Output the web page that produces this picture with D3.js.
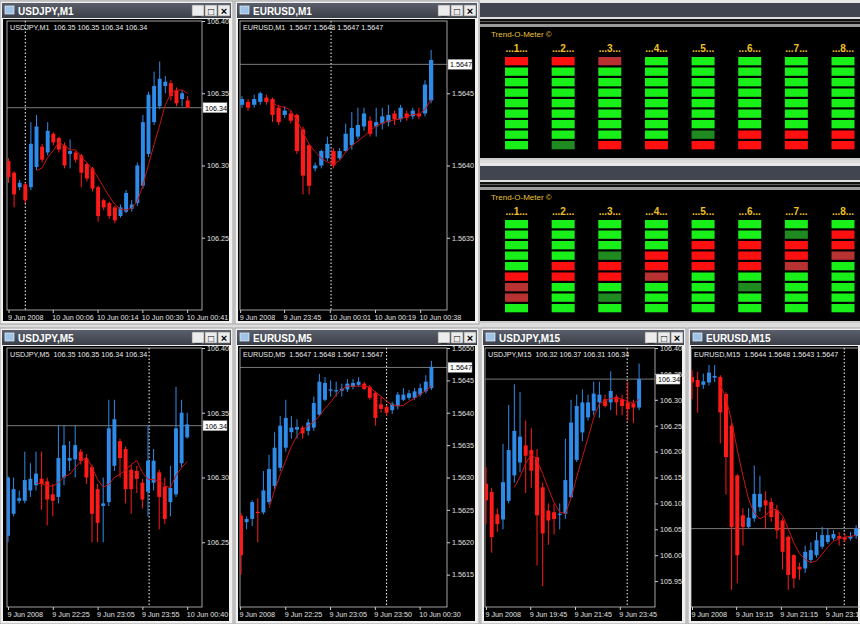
<!DOCTYPE html>
<html><head><meta charset="utf-8">
<script src="https://cdn.jsdelivr.net/npm/d3@7/dist/d3.min.js"></script>
<style>body{margin:0;background:#d8d8d8;}svg{display:block;font-family:"Liberation Sans",Arial,sans-serif;}</style>
</head><body><svg id="c" width="860" height="624"></svg>
<script>
// ---- data: candles as [open, high, low, close] ----
const usdjpyM1 = [[106.303,106.305,106.288,106.292],[106.295,106.296,106.271,106.280],[106.285,106.290,106.283,106.288],[106.287,106.288,106.274,106.276],[106.285,106.330,106.283,106.315],[106.299,106.335,106.297,106.327],[106.313,106.315,106.302,106.304],[106.309,106.330,106.307,106.324],[106.322,106.323,106.314,106.316],[106.319,106.320,106.309,106.311],[106.314,106.316,106.298,106.300],[106.308,106.318,106.298,106.310],[106.309,106.310,106.302,106.304],[106.307,106.308,106.285,106.295],[106.301,106.302,106.289,106.291],[106.298,106.299,106.282,106.284],[106.285,106.286,106.261,106.265],[106.276,106.277,106.269,106.271],[106.274,106.275,106.263,106.265],[106.271,106.272,106.260,106.262],[106.265,106.273,106.264,106.271],[106.268,106.283,106.267,106.281],[106.270,106.276,106.268,106.273],[106.274,106.302,106.272,106.300],[106.286,106.335,106.284,106.330],[106.308,106.351,106.306,106.349],[106.330,106.365,106.328,106.355],[106.341,106.372,106.339,106.360],[106.355,106.362,106.350,106.358],[106.357,106.359,106.345,106.348],[106.352,106.354,106.341,106.343],[106.346,106.352,106.341,106.350],[106.345,106.348,106.340,106.340]];
const eurusdM1 = [[1.56442,1.56448,1.56440,1.56446],[1.56444,1.56446,1.56438,1.56440],[1.56442,1.56449,1.56440,1.56446],[1.56444,1.56451,1.56442,1.56450],[1.56447,1.56449,1.56442,1.56444],[1.56446,1.56447,1.56430,1.56435],[1.56440,1.56442,1.56428,1.56430],[1.56435,1.56441,1.56433,1.56438],[1.56436,1.56438,1.56429,1.56431],[1.56435,1.56436,1.56408,1.56410],[1.56425,1.56427,1.56380,1.56393],[1.56414,1.56415,1.56380,1.56386],[1.56398,1.56402,1.56396,1.56400],[1.56400,1.56411,1.56398,1.56410],[1.56405,1.56420,1.56403,1.56415],[1.56410,1.56412,1.56398,1.56400],[1.56405,1.56412,1.56404,1.56410],[1.56410,1.56429,1.56409,1.56422],[1.56414,1.56437,1.56411,1.56426],[1.56420,1.56440,1.56418,1.56428],[1.56427,1.56440,1.56424,1.56436],[1.56431,1.56434,1.56420,1.56422],[1.56427,1.56440,1.56420,1.56430],[1.56429,1.56440,1.56425,1.56434],[1.56430,1.56442,1.56427,1.56435],[1.56436,1.56438,1.56428,1.56432],[1.56432,1.56442,1.56430,1.56440],[1.56436,1.56438,1.56431,1.56433],[1.56434,1.56440,1.56432,1.56438],[1.56436,1.56440,1.56432,1.56434],[1.56436,1.56459,1.56434,1.56456],[1.56445,1.56480,1.56443,1.56473]];
const usdjpyM5 = [[106.255,106.301,106.250,106.300],[106.272,106.300,106.270,106.291],[106.282,106.290,106.280,106.284],[106.282,106.320,106.280,106.298],[106.290,106.311,106.285,106.299],[106.294,106.320,106.290,106.303],[106.299,106.320,106.275,106.295],[106.297,106.300,106.263,106.283],[106.287,106.295,106.270,106.282],[106.285,106.340,106.280,106.315],[106.300,106.340,106.294,106.325],[106.313,106.328,106.305,106.315],[106.314,106.340,106.300,106.325],[106.320,106.322,106.310,106.313],[106.315,106.318,106.295,106.300],[106.308,106.310,106.250,106.272],[106.291,106.295,106.250,106.265],[106.278,106.300,106.250,106.280],[106.281,106.360,106.278,106.338],[106.309,106.360,106.305,106.345],[106.328,106.330,106.300,106.315],[106.322,106.324,106.280,106.291],[106.306,106.310,106.272,106.291],[106.305,106.309,106.288,106.299],[106.296,106.299,106.276,106.283],[106.289,106.340,106.270,106.313],[106.296,106.322,106.290,106.313],[106.304,106.306,106.260,106.285],[106.293,106.300,106.264,106.268],[106.281,106.309,106.270,106.292],[106.287,106.370,106.285,106.338],[106.311,106.360,106.308,106.350],[106.331,106.350,106.330,106.341]];
const eurusdM5 = [[1.56241,1.56245,1.56150,1.56180],[1.56231,1.56240,1.56220,1.56236],[1.56236,1.56265,1.56225,1.56262],[1.56247,1.56268,1.56200,1.56246],[1.56246,1.56310,1.56243,1.56280],[1.56262,1.56335,1.56258,1.56313],[1.56287,1.56370,1.56282,1.56346],[1.56315,1.56395,1.56310,1.56380],[1.56346,1.56420,1.56340,1.56392],[1.56370,1.56395,1.56360,1.56377],[1.56374,1.56390,1.56360,1.56378],[1.56377,1.56380,1.56360,1.56368],[1.56372,1.56390,1.56365,1.56385],[1.56377,1.56425,1.56372,1.56415],[1.56397,1.56460,1.56395,1.56448],[1.56420,1.56455,1.56418,1.56446],[1.56434,1.56450,1.56425,1.56436],[1.56433,1.56448,1.56425,1.56435],[1.56434,1.56445,1.56425,1.56437],[1.56436,1.56452,1.56432,1.56445],[1.56440,1.56452,1.56436,1.56446],[1.56443,1.56455,1.56440,1.56448],[1.56445,1.56448,1.56435,1.56437],[1.56440,1.56443,1.56420,1.56423],[1.56431,1.56433,1.56380,1.56392],[1.56413,1.56425,1.56400,1.56406],[1.56409,1.56412,1.56395,1.56400],[1.56404,1.56417,1.56398,1.56414],[1.56410,1.56432,1.56405,1.56428],[1.56420,1.56438,1.56418,1.56428],[1.56423,1.56435,1.56420,1.56430],[1.56423,1.56438,1.56420,1.56433],[1.56428,1.56445,1.56425,1.56438],[1.56433,1.56458,1.56430,1.56448],[1.56438,1.56480,1.56435,1.56471]];
const usdjpyM15 = [[106.138,106.170,106.060,106.106],[106.122,106.130,106.005,106.035],[106.079,106.090,106.045,106.060],[106.069,106.215,106.050,106.141],[106.105,106.290,106.100,106.203],[106.154,106.330,106.140,106.240],[106.179,106.315,106.160,106.229],[106.212,106.260,106.120,106.192],[106.203,106.245,106.130,106.163],[106.189,106.205,105.980,106.077],[106.131,106.140,105.940,106.042],[106.086,106.100,106.020,106.067],[106.083,106.100,106.040,106.070],[106.079,106.100,106.050,106.080],[106.080,106.225,106.070,106.145],[106.112,106.300,106.110,106.256],[106.184,106.310,106.180,106.288],[106.237,106.320,106.220,106.295],[106.266,106.310,106.260,106.295],[106.279,106.335,106.270,106.312],[106.295,106.335,106.265,106.310],[106.301,106.310,106.285,106.288],[106.295,106.355,106.280,106.317],[106.306,106.310,106.270,106.295],[106.301,106.310,106.270,106.288],[106.295,106.335,106.260,106.282],[106.293,106.300,106.255,106.285],[106.285,106.370,106.280,106.340]];
const eurusdM15 = [[1.56915,1.56935,1.56850,1.56899],[1.56906,1.56930,1.56810,1.56886],[1.56892,1.56925,1.56880,1.56902],[1.56899,1.56950,1.56890,1.56928],[1.56913,1.56950,1.56900,1.56918],[1.56915,1.56920,1.56720,1.56811],[1.56865,1.56870,1.56570,1.56680],[1.56772,1.56780,1.56290,1.56475],[1.56626,1.56630,1.56310,1.56392],[1.56509,1.56530,1.56420,1.56475],[1.56475,1.56530,1.56470,1.56502],[1.56500,1.56655,1.56490,1.56572],[1.56533,1.56625,1.56520,1.56572],[1.56553,1.56580,1.56470,1.56538],[1.56548,1.56560,1.56490,1.56504],[1.56524,1.56540,1.56440,1.56465],[1.56494,1.56500,1.56350,1.56402],[1.56446,1.56450,1.56290,1.56334],[1.56392,1.56395,1.56295,1.56324],[1.56358,1.56370,1.56320,1.56350],[1.56353,1.56420,1.56340,1.56402],[1.56378,1.56430,1.56370,1.56407],[1.56392,1.56460,1.56385,1.56436],[1.56417,1.56475,1.56410,1.56451],[1.56431,1.56470,1.56425,1.56451],[1.56441,1.56465,1.56435,1.56454],[1.56448,1.56460,1.56420,1.56441],[1.56444,1.56455,1.56430,1.56438],[1.56441,1.56460,1.56435,1.56448],[1.56448,1.56480,1.56440,1.56470]];

const chartTitles = ["USDJPY,M1","EURUSD,M1","USDJPY,M5","EURUSD,M5","USDJPY,M15","EURUSD,M15"];
const chartHeaders = ["106.35 106.35 106.34 106.34","1.5647 1.5648 1.5647 1.5647","106.35 106.35 106.34 106.34","1.5647 1.5648 1.5647 1.5647","106.32 106.37 106.31 106.34","1.5644 1.5648 1.5643 1.5647"];
const chartData = [usdjpyM1, eurusdM1, usdjpyM5, eurusdM5, usdjpyM15, eurusdM15];
const priceDomains = [[106.20,106.40],[1.5630,1.5650],[106.20,106.40],[1.5610,1.5650],[105.90,106.40],[1.5624,1.5700]];
const priceTicks = [[106.25,106.30,106.35,106.40],[1.5635,1.5640,1.5645],[106.25,106.30,106.35,106.40],[1.5615,1.5620,1.5625,1.5630,1.5635,1.5640,1.5645,1.5650],[105.95,106.00,106.05,106.10,106.15,106.20,106.25,106.30,106.35,106.40],[]];
const lastPrices = [106.34,1.5647,106.34,1.5647,106.34,1.5647];
const timeLabels = [["9 Jun 2008","10 Jun 00:06","10 Jun 00:14","10 Jun 00:30","10 Jun 00:41"],["9 Jun 2008","9 Jun 23:45","10 Jun 00:01","10 Jun 00:19","10 Jun 00:38"],["9 Jun 2008","9 Jun 22:25","9 Jun 23:05","9 Jun 23:55","10 Jun 00:40"],["9 Jun 2008","9 Jun 22:25","9 Jun 23:05","9 Jun 23:50","10 Jun 00:30"],["9 Jun 2008","9 Jun 19:45","9 Jun 21:45","9 Jun 23:45"],["9 Jun 2008","9 Jun 19:15","9 Jun 21:15","9 Jun 23:15"]];
const timeLabelIdx = [[0,7.9,15.9,23.9,31.9],[-0.3,6.9,14.4,21.8,29.2],[0,8,16,24,32],[-0.2,7.9,15.9,23.9,31.9],[0,7.8,15.7,23.6],[0,7.8,15.7,23.7]];
const separatorIdx = [3,14.6,25.2,26,24.9,26.9];

// Trend-O-Meter states: R red, G green, D dull red, K dark green (columns top->bottom)
const meterLabels = ["...1...","...2...","...3...","...4...","...5...","...6...","...7...","...8..."];
const meterA = ["RGGGGGGGG","RGGGGGGGK","DGGGGGGGR","GGGGGGGGR","GGGGGGGKR","GGGGGGGRR","GGGGGGGRR","GGGGGGGRR"];
const meterB = ["GGGGGRDDG","GGGGRRGGG","GGGKRRGKG","GGGRRDGGG","GGRRRGGGG","GGRRRGKGG","GKRRDGGGG","GRRDGGGGG"];

// ---- layout ----
const layout = [
 {win:[0,1,233,323], plot:[7,21,202,310], x0:8.5, step:5.6, dec:2},
 {win:[235,1,244,323], plot:[240,21,447,310], x0:242, step:6.1, dec:4},
 {win:[0,328,233,296], plot:[7,348,202,607], x0:8, step:5.6, dec:2},
 {win:[235,328,244,296], plot:[240,348,447,607], x0:241, step:5.6, dec:4},
 {win:[481,328,205,296], plot:[485,348,655,607], x0:486, step:5.67, dec:2},
 {win:[688,328,180,296], plot:[691,348,900,607], x0:692, step:5.66, dec:4, nobtn:true}
];
const FS = 7.2;
const svg = d3.select("#c");
svg.append("rect").attr("width",860).attr("height",624).attr("fill","#dcdcdc");
const defs = svg.append("defs");
const grad = defs.append("linearGradient").attr("id","tb").attr("x1",0).attr("y1",0).attr("x2",0).attr("y2",1);
grad.append("stop").attr("offset",0).attr("stop-color","#5a5f6b");
grad.append("stop").attr("offset",1).attr("stop-color","#3b3f48");

const BULL="#2f8be8", BEAR="#ff1a1a";

layout.forEach((L,ci)=>{
  const [wx,wy,ww,wh]=L.win, [px0,py0,px1,py1]=L.plot;
  const g=svg.append("g");
  g.append("rect").attr("x",wx).attr("y",wy).attr("width",ww).attr("height",wh).attr("fill","#f0f0f0").attr("stroke","#a0a0a0");
  g.append("rect").attr("x",wx+2).attr("y",wy+2).attr("width",ww-4).attr("height",15).attr("fill","url(#tb)");
  g.append("rect").attr("x",wx+5).attr("y",wy+5).attr("width",9).attr("height",8).attr("fill","#9fc3e8").attr("stroke","#e8f0fa").attr("stroke-width",0.7);
  g.append("text").attr("x",wx+18).attr("y",wy+14).attr("fill","#fff").attr("font-size",10).attr("font-weight","bold").text(chartTitles[ci]);
  if(!L.nobtn){
    ["_","□","×"].forEach((s,k)=>{
      const bx=wx+ww-41+k*13;
      g.append("rect").attr("x",bx).attr("y",wy+4).attr("width",12).attr("height",11).attr("fill","#ececec").attr("stroke","#777").attr("stroke-width",0.6);
      g.append("text").attr("x",bx+6).attr("y",wy+13.5).attr("text-anchor","middle").attr("font-size",k==1?10:11).attr("font-weight","bold").attr("fill","#000").text(s);
    });
  }
  const bx1=Math.min(wx+ww-2,860);
  g.append("rect").attr("x",wx+3).attr("y",wy+18).attr("width",bx1-wx-5).attr("height",wh-21).attr("fill","#000");
  const clipId="cl"+ci;
  defs.append("clipPath").attr("id",clipId).append("rect").attr("x",px0).attr("y",py0).attr("width",px1-px0).attr("height",py1-py0);
  const y=d3.scaleLinear().domain(priceDomains[ci]).range([py1,py0]);
  const data=chartData[ci];
  const x=d3.scaleLinear().domain([0,1]).range([L.x0,L.x0+L.step]);
  g.append("rect").attr("x",px0).attr("y",py0).attr("width",px1-px0).attr("height",py1-py0).attr("fill","none").attr("stroke","#c8c8c8").attr("stroke-width",0.8);
  const yAxis=d3.axisRight(y).tickValues(priceTicks[ci]).tickSize(3).tickPadding(2).tickFormat(d3.format("."+L.dec+"f"));
  const ya=g.append("g").attr("transform",`translate(${px1},0)`).call(yAxis);
  ya.select(".domain").remove();
  ya.selectAll("line").attr("stroke","#ccc");
  ya.selectAll("text").attr("fill","#e0e0e0").attr("font-size",FS).attr("font-family","Liberation Sans, Arial");
  const xa=g.append("g").attr("transform",`translate(0,${py1})`).call(d3.axisBottom(x).tickValues(timeLabelIdx[ci]).tickSize(3).tickPadding(2).tickFormat((d,i)=>timeLabels[ci][i]));
  xa.select(".domain").remove();
  xa.selectAll("line").attr("stroke","#ccc");
  xa.selectAll("text").attr("fill","#e0e0e0").attr("font-size",FS).attr("text-anchor","start").attr("dx",-1).attr("font-family","Liberation Sans, Arial");
  const p=g.append("g").attr("clip-path",`url(#${clipId})`);
  p.append("line").attr("x1",x(separatorIdx[ci])).attr("x2",x(separatorIdx[ci])).attr("y1",py0).attr("y2",py1).attr("stroke","#fff").attr("stroke-dasharray","1.5,2").attr("stroke-width",1);
  p.append("line").attr("x1",px0).attr("x2",px1).attr("y1",y(lastPrices[ci])).attr("y2",y(lastPrices[ci])).attr("stroke","#9a9a9a").attr("stroke-width",0.8);
  const bw=Math.max(3,L.step*0.7);
  const cg=p.selectAll("g.cd").data(data).join("g");
  cg.append("line").attr("x1",(d,i)=>x(i)).attr("x2",(d,i)=>x(i)).attr("y1",d=>y(d[1])).attr("y2",d=>y(d[2])).attr("stroke",d=>d[3]>=d[0]?BULL:BEAR).attr("stroke-width",1);
  cg.append("rect").attr("x",(d,i)=>x(i)-bw/2).attr("width",bw).attr("y",d=>y(Math.max(d[0],d[3]))).attr("height",d=>Math.max(1.2,Math.abs(y(d[0])-y(d[3])))).attr("fill",d=>d[3]>=d[0]?BULL:BEAR);
  const per=6;
  const ma=data.map((d,i)=>i<per-1?null:d3.mean(data.slice(i-per+1,i+1),e=>e[3]));
  p.append("path").datum(ma.map((v,i)=>[i,v]).filter(d=>d[1]!==null)).attr("fill","none").attr("stroke","#c81414").attr("stroke-width",1).attr("d",d3.line().x(d=>x(d[0])).y(d=>y(d[1])));
  g.append("text").attr("x",px0+3).attr("y",py0+9).attr("fill","#e8e8e8").attr("font-size",FS).attr("xml:space","preserve").text(chartTitles[ci]+"  "+chartHeaders[ci]);
  if(px1<860){
    const yy=y(lastPrices[ci]);
    g.append("rect").attr("x",px1+1).attr("y",yy-5).attr("width",24).attr("height",10).attr("fill","#fff").attr("stroke","#888").attr("stroke-width",0.5);
    g.append("text").attr("x",px1+3).attr("y",yy+3).attr("font-size",FS).attr("fill","#000").text(d3.format("."+L.dec+"f")(lastPrices[ci]));
  }
});

// ---- Trend-O-Meter panels ----
const colorMap={R:"#ff1010",G:"#19f019",D:"#b83232",K:"#1f8a1f"};
function meter(states, top){
  const g=svg.append("g");
  g.append("rect").attr("x",480).attr("y",top).attr("width",380).attr("height",160).attr("fill","#000");
  g.append("rect").attr("x",480).attr("y",top).attr("width",380).attr("height",3).attr("fill","#e8e8e8");
  g.append("rect").attr("x",480).attr("y",top+3).attr("width",380).attr("height",14).attr("fill","#41454f");
  g.append("rect").attr("x",480).attr("y",top+17).attr("width",380).attr("height",2).attr("fill","#e0e0e0");
  g.append("rect").attr("x",480).attr("y",top+19).attr("width",380).attr("height",5).attr("fill","#111");
  g.append("line").attr("x1",480).attr("x2",860).attr("y1",top+21.5).attr("y2",top+21.5).attr("stroke","#777").attr("stroke-width",0.8);
  g.append("rect").attr("x",480).attr("y",top+24).attr("width",380).attr("height",3).attr("fill","#9a9a9a");
  const base=top+27;
  g.append("text").attr("x",491).attr("y",base+10).attr("fill","#e6c23a").attr("font-size",8).text("Trend-O-Meter ©");
  const xs=d3.scalePoint().domain(d3.range(8)).range([516.5,843]);
  const ys=d3.scaleLinear().domain([0,1]).range([base+30,base+40.5]);
  meterLabels.forEach((t,k)=>g.append("text").attr("x",xs(k)).attr("y",base+25).attr("text-anchor","middle").attr("fill","#f0c020").attr("font-size",10).attr("font-weight","bold").text(t));
  states.forEach((col,k)=>{
    col.split("").forEach((s,r)=>{
      g.append("rect").attr("x",xs(k)-11.5).attr("y",ys(r)).attr("width",23).attr("height",8.3).attr("fill",colorMap[s]);
    });
  });
  g.append("rect").attr("x",480).attr("y",top+158).attr("width",380).attr("height",2).attr("fill","#ccc");
}
meter(meterA,0);
meter(meterB,163);
</script></body></html>
